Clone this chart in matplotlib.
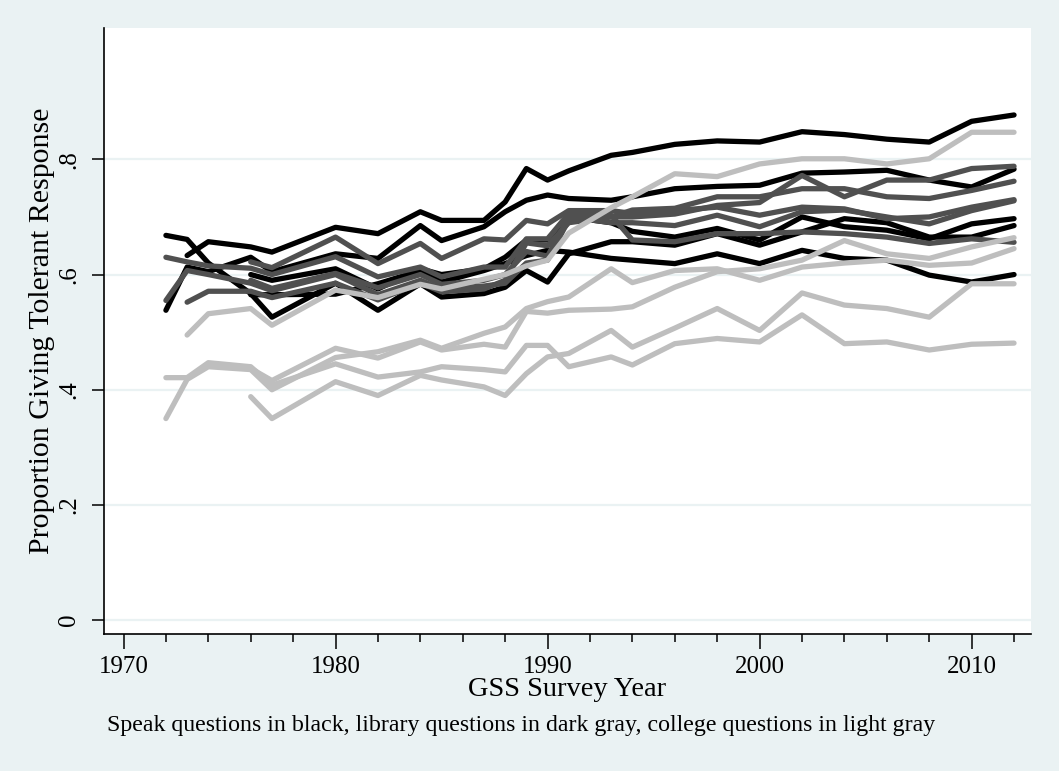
import numpy as np
import matplotlib
matplotlib.use('Agg')
import matplotlib.pyplot as plt

plt.rcParams['font.family'] = ['Liberation Serif', 'DejaVu Serif']

nan = np.nan
years = [1972, 1973, 1974, 1976, 1977, 1980, 1982, 1984, 1985, 1987, 1988, 1989, 1990,
         1991, 1993, 1994, 1996, 1998, 2000, 2002, 2004, 2006, 2008, 2010, 2012]

# speak questions (black)
spk1 = [nan, .633, .657, .648, .639, .682, .671, .709, .694, .694, .726, .784, .764,
        .780, .807, .812, .826, .832, .830, .848, .843, .835, .830, .866, .877]
spk2 = [.668, .661, .620, .567, .526, .585, .538, .584, .561, .567, .578, .607, .587,
        .636, .657, .657, .651, .671, .651, .674, .697, .690, .665, .665, .685]
spk3 = [.538, .613, .605, .630, .605, .636, .628, .685, .659, .683, .709, .729, .738,
        .732, .729, .735, .749, .753, .755, .776, .778, .781, .764, .752, .783]
spk4 = [nan, nan, nan, .565, .565, .566, .584, .607, .587, .607, .619, .633, .642,
        .639, .628, .625, .619, .636, .619, .642, .628, .625, .599, .587, .600]
spk5 = [nan, nan, nan, .600, .590, .610, .575, .610, .600, .610, .630, .660, .660,
        .700, .690, .675, .665, .680, .660, .700, .683, .677, .662, .688, .697]

# library questions (dark gray)
lib1 = [.630, .622, .615, .611, .600, .631, .596, .613, .596, .613, .613, .662, .662,
        .706, .700, .712, .715, .735, .735, .749, .749, .735, .732, .746, .762]
lib2 = [.555, .607, .600, .585, .572, .600, .565, .590, .575, .580, .585, .620, .625,
        .695, .703, .660, .657, .671, .671, .674, .671, .665, .654, .662, .656]
lib3 = [nan, .552, .571, .571, .560, .585, .556, .585, .570, .575, .590, .655, .650,
        .690, .700, .700, .705, .720, .725, .772, .735, .764, .764, .784, .788]
lib4 = [nan, nan, nan, .622, .612, .665, .619, .654, .628, .662, .660, .694, .688,
        .711, .711, .706, .711, .717, .703, .717, .714, .697, .700, .717, .730]
lib5 = [nan, nan, nan, .590, .576, .602, .577, .600, .583, .590, .600, .640, .632,
        .700, .690, .690, .685, .703, .683, .709, .712, .700, .688, .711, .728]

# college questions (light gray)
col1 = [.350, .418, .440, .435, .400, .456, .466, .486, .472, .498, .509, .541, .553,
        .561, .610, .586, .607, .610, .590, .613, .620, .625, .616, .620, .645]
col2 = [nan, nan, nan, .437, .416, .472, .455, .483, .469, .479, .474, .536, .533,
        .538, .540, .544, .578, .605, .610, .625, .659, .636, .628, .648, .664]
col3 = [.421, .421, .447, .440, .408, .445, .422, .431, .440, .435, .431, .477, .477,
        .440, .457, .443, .480, .489, .483, .530, .480, .483, .469, .479, .481]
col4 = [nan, nan, nan, .388, .350, .414, .390, .425, .417, .405, .390, .428, .457,
        .463, .503, .474, .507, .541, .503, .568, .547, .541, .526, .584, .584]
col5 = [nan, .495, .532, .541, .512, .573, .560, .583, .575, .592, .600, .615, .625,
        .672, .716, .735, .775, .770, .792, .801, .801, .792, .801, .847, .847]

groups = [
    ([spk1, spk2, spk3, spk4, spk5], '#000000'),
    ([lib1, lib2, lib3, lib4, lib5], '#505050'),
    ([col1, col2, col3, col4, col5], '#bebebe'),
]

bg = '#eaf2f3'
fig = plt.figure(figsize=(10.59, 7.71), dpi=100, facecolor=bg)
ax = fig.add_axes([104 / 1059, 1 - 634 / 771, (1031 - 104) / 1059, (634 - 28) / 771])
ax.set_facecolor('white')

for series, color in groups:
    for s in series:
        ax.plot(years, s, color=color, lw=3.8, solid_capstyle='round',
                solid_joinstyle='round', zorder=3)

ax.set_xlim(1969.08, 2012.8)
ax.set_ylim(-0.024, 1.028)

ax.set_yticks([0, .2, .4, .6, .8])
ax.set_yticklabels(['0', '.2', '.4', '.6', '.8'], rotation=90, va='center')
ax.set_xticks([1970, 1980, 1990, 2000, 2010])
ax.set_xticks(np.arange(1970, 2013, 2), minor=True)

ax.grid(axis='y', color=bg, lw=1.6, zorder=0)
ax.set_axisbelow(True)

for side in ['top', 'right']:
    ax.spines[side].set_visible(False)
for side in ['left', 'bottom']:
    ax.spines[side].set_linewidth(1.2)

ax.tick_params(axis='y', length=9, width=1.1, pad=8, labelsize=18)
ax.tick_params(axis='x', which='major', length=11, width=1.1, pad=5, labelsize=18)
ax.tick_params(axis='x', which='minor', length=6, width=1.1)

fig.text(42 / 1059, 1 - 331 / 771, 'Proportion Giving Tolerant Response', rotation=90,
         ha='center', va='center', fontsize=21.5)
fig.text(567 / 1059, 1 - 690 / 771, 'GSS Survey Year', ha='center', va='center', fontsize=20.5)
fig.text(107 / 1059, 1 - 725 / 771,
         'Speak questions in black, library questions in dark gray, college questions in light gray',
         ha='left', va='center', fontsize=17.2)

fig.savefig('out.png', dpi=100, facecolor=bg)
